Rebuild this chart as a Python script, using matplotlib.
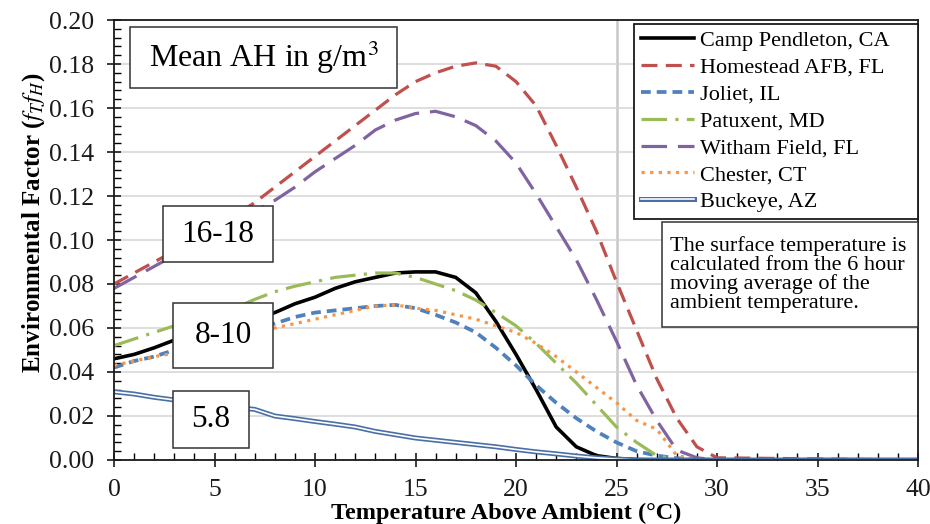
import matplotlib
matplotlib.use("Agg")
import matplotlib.pyplot as plt
import matplotlib.patheffects as pe
from matplotlib.patches import Rectangle
from matplotlib.ticker import MultipleLocator

plt.rcParams['font.family'] = ['Liberation Serif', 'DejaVu Serif']
plt.rcParams['mathtext.fontset'] = 'stix'

# temperature above ambient (deg C)
temp = list(range(0, 31)) + [40]

camp_pendleton = [0.046, 0.048, 0.051, 0.0545, 0.056, 0.058, 0.061, 0.064, 0.067, 0.071,
                  0.074, 0.078, 0.081, 0.083, 0.085, 0.0855, 0.0855, 0.083, 0.076, 0.063,
                  0.048, 0.032, 0.015, 0.006, 0.002, 0.0007, 0.0002, 0.0, 0.0, 0.0, 0.0, 0.0]
homestead = [0.080, 0.085, 0.090, 0.095, 0.100, 0.105, 0.111, 0.117, 0.124, 0.131,
             0.138, 0.145, 0.152, 0.159, 0.166, 0.172, 0.176, 0.179, 0.1805, 0.179,
             0.172, 0.161, 0.143, 0.124, 0.104, 0.081, 0.059, 0.037, 0.019, 0.006,
             0.001, 0.0]
joliet = [0.042, 0.045, 0.047, 0.050, 0.053, 0.055, 0.058, 0.060, 0.062, 0.065,
          0.067, 0.068, 0.069, 0.070, 0.0705, 0.069, 0.066, 0.0625, 0.058, 0.051,
          0.043, 0.034, 0.026, 0.019, 0.013, 0.008, 0.004, 0.002, 0.0008, 0.0002, 0.0, 0.0]
patuxent = [0.052, 0.055, 0.058, 0.061, 0.064, 0.066, 0.069, 0.073, 0.0765, 0.079,
            0.081, 0.083, 0.084, 0.085, 0.085, 0.083, 0.080, 0.077, 0.0727, 0.067,
            0.061, 0.053, 0.044, 0.035, 0.025, 0.015, 0.008, 0.002, 0.0003, 0.0, 0.0, 0.0]
witham = [0.078, 0.083, 0.088, 0.093, 0.098, 0.103, 0.108, 0.113, 0.118, 0.124,
          0.131, 0.137, 0.143, 0.150, 0.1545, 0.1575, 0.1585, 0.156, 0.152, 0.145,
          0.135, 0.121, 0.106, 0.091, 0.073, 0.054, 0.034, 0.018, 0.0045, 0.001, 0.0, 0.0]
chester = [0.043, 0.045, 0.047, 0.0485, 0.051, 0.053, 0.056, 0.058, 0.060, 0.062,
           0.064, 0.066, 0.068, 0.070, 0.0705, 0.069, 0.068, 0.066, 0.064, 0.061,
           0.058, 0.053, 0.047, 0.040, 0.033, 0.026, 0.018, 0.014, 0.002, 0.0003, 0.0, 0.0]
buckeye = [0.031, 0.030, 0.0285, 0.0273, 0.026, 0.025, 0.024, 0.023, 0.020, 0.0188,
           0.0175, 0.0163, 0.015, 0.013, 0.0115, 0.010, 0.009, 0.008, 0.007, 0.006,
           0.0048, 0.0037, 0.0028, 0.0018, 0.001, 0.0004, 0.0, 0.0, 0.0, 0.0, 0.0, 0.0]

fig = plt.figure(figsize=(9.3, 5.24), dpi=100)
ax = fig.add_axes([114/930, 1-460/524, 804/930, 440/524])

lw = 2.3
ax.plot(temp, camp_pendleton, color='black', lw=lw + 0.3, label='Camp Pendleton, CA')
ax.plot(temp, homestead, color='#c0504d', lw=lw, linestyle=(0, (5, 2.6)),
        label='Homestead AFB, FL')
ax.plot(temp, joliet, color='#4f81bd', lw=lw + 0.4, linestyle=(0, (2.6, 1.6)),
        label='Joliet, IL')
ax.plot(temp, patuxent, color='#9bbb59', lw=lw, linestyle=(0, (8, 2.6, 1, 2.6)),
        label='Patuxent, MD')
ax.plot(temp, witham, color='#8064a2', lw=lw, linestyle=(0, (8, 3.4)),
        label='Witham Field, FL')
ax.plot(temp, chester, color='#f79646', lw=lw, linestyle=(0, (1, 1.7)),
        label='Chester, CT')
ax.plot(temp, buckeye, color='white', lw=1.2, label='Buckeye, AZ',
        path_effects=[pe.Stroke(linewidth=3.6, foreground='#4a6fa5'), pe.Normal()])

ax.set_xlim(0, 40)
ax.set_ylim(0, 0.2)
ax.xaxis.set_major_locator(MultipleLocator(5))
ax.xaxis.set_minor_locator(MultipleLocator(1))
ax.yaxis.set_major_locator(MultipleLocator(0.02))
ax.yaxis.set_minor_locator(MultipleLocator(0.004))
ax.yaxis.set_major_formatter(matplotlib.ticker.FormatStrFormatter('%.2f'))
ax.grid(axis='y', color='#d4d4d4', lw=1.1)
ax.set_axisbelow(True)
ax.axvline(25, color='#c8c8c8', lw=1.8, zorder=0.5)

ax.tick_params(which='major', direction='inout', length=10, width=1.2,
               labelsize=18.5, pad=9, colors='#1a1a1a')
ax.tick_params(which='minor', direction='in', length=5, width=1)
for s in ax.spines.values():
    s.set_linewidth(1.3)
    s.set_color('#1a1a1a')

ax.set_xlabel('Temperature Above Ambient (°C)', fontsize=17.5, fontweight='bold')
ax.xaxis.set_label_coords(0.4876, -0.097)
ax.set_ylabel('Environmental Factor ($f_T f_H$)', fontsize=18, fontweight='bold')
ax.yaxis.set_label_coords(-0.083, 0.54)

# legend box stretched to the reference frame, entries left aligned
leg = ax.legend(loc='upper left', bbox_to_anchor=(0.647, 0.552, 0.353, 0.439),
                mode='expand', fontsize=16,
                frameon=True, fancybox=False, framealpha=1, edgecolor='#1a1a1a',
                handlelength=2.4, handletextpad=0.25, labelspacing=0.28,
                borderpad=0.3, borderaxespad=0)
leg.get_frame().set_linewidth(1.3)


def box(x0, y0, x1, y1, text, size, ha='center'):
    ax.add_patch(Rectangle((x0, y0), x1 - x0, y1 - y0, transform=ax.transAxes,
                           facecolor='white', edgecolor='#333333', lw=1.1, zorder=5))
    if ha == 'center':
        ax.text((x0 + x1) / 2, (y0 + y1) / 2, text, transform=ax.transAxes,
                ha='center', va='center', fontsize=size, zorder=6)
    else:
        ax.text(x0 + 0.009, (y0 + y1) / 2, text, transform=ax.transAxes,
                ha='left', va='center', fontsize=size, zorder=6, linespacing=1.0)


box(0.020, 0.845, 0.352, 0.984, 'Mean AH in g/m$^3$', 23)
box(0.061, 0.450, 0.198, 0.577, '16-18', 22.5)
box(0.073, 0.209, 0.198, 0.357, '8-10', 22.5)
box(0.073, 0.027, 0.168, 0.157, '5.8', 22.5)
box(0.682, 0.302, 1.0, 0.541,
    'The surface temperature is\ncalculated from the 6 hour\nmoving average of the\nambient temperature.',
    16, ha='left')

fig.savefig('out.png', dpi=100)
